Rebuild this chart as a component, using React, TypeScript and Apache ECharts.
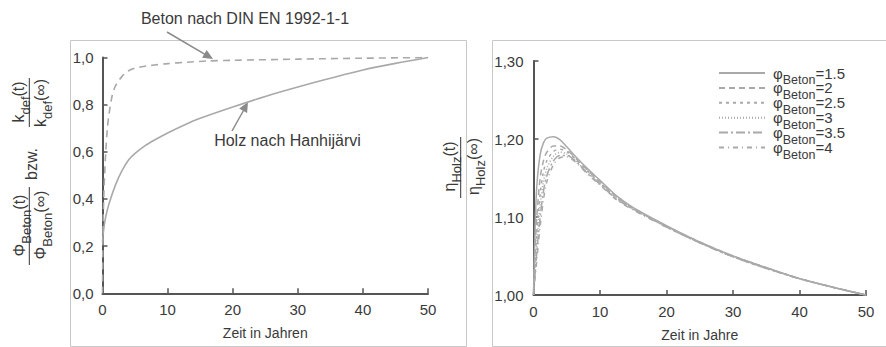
import React, { useEffect, useRef } from "react";
import * as echarts from "echarts";

// ---------- data ----------
const X_TICKS_MAX = 50;

// Left chart: relative creep functions
const T_BETON = [0, 0.1, 0.25, 0.5, 0.75, 1, 1.5, 2, 3, 4, 5, 6.5, 8, 10, 13, 16, 20, 30, 40, 50];
const V_BETON = [0, 0.3, 0.45, 0.6, 0.7, 0.76, 0.84, 0.88, 0.92, 0.944, 0.955, 0.963, 0.968, 0.974, 0.98, 0.985, 0.988, 0.993, 0.997, 1.0];

const T_HOLZ = [0, 0.1, 0.25, 0.5, 1, 2, 3, 4, 5, 6.5, 8, 10, 12.5, 15, 20, 25, 30, 35, 40, 45, 50];
const V_HOLZ = [0.22, 0.25, 0.285, 0.325, 0.38, 0.46, 0.52, 0.565, 0.593, 0.625, 0.65, 0.68, 0.713, 0.742, 0.79, 0.835, 0.875, 0.912, 0.947, 0.975, 1.0];

// Right chart: eta_Holz(t)/eta_Holz(inf) for several phi_Beton
const T_RIGHT = [0, 0.25, 0.5, 1, 1.5, 2, 3, 4, 5, 6.5, 8, 10, 12.5, 15, 20, 25, 30, 35, 40, 45, 50];
const PHI_NAMES = ["1.5", "2", "2.5", "3", "3.5", "4"];
const V_PHI_15 = [1.0, 1.09, 1.14, 1.18, 1.195, 1.201, 1.203, 1.199, 1.19, 1.176, 1.163, 1.147, 1.127, 1.112, 1.089, 1.068, 1.05, 1.035, 1.021, 1.01, 1.0];
const V_PHI_2 = [1.0, 1.06, 1.1, 1.15, 1.172, 1.183, 1.191, 1.191, 1.186, 1.174, 1.161, 1.145, 1.126, 1.111, 1.088, 1.068, 1.05, 1.035, 1.021, 1.01, 1.0];
const V_PHI_25 = [1.0, 1.045, 1.08, 1.13, 1.158, 1.172, 1.184, 1.187, 1.184, 1.173, 1.16, 1.144, 1.125, 1.111, 1.088, 1.067, 1.05, 1.035, 1.021, 1.01, 1.0];
const V_PHI_3 = [1.0, 1.035, 1.065, 1.115, 1.145, 1.162, 1.178, 1.183, 1.181, 1.171, 1.158, 1.143, 1.124, 1.11, 1.088, 1.067, 1.049, 1.035, 1.021, 1.01, 1.0];
const V_PHI_35 = [1.0, 1.028, 1.055, 1.1, 1.133, 1.153, 1.172, 1.179, 1.179, 1.17, 1.157, 1.142, 1.123, 1.11, 1.087, 1.067, 1.049, 1.034, 1.021, 1.01, 1.0];
const V_PHI_4 = [1.0, 1.022, 1.045, 1.088, 1.122, 1.145, 1.167, 1.176, 1.177, 1.169, 1.156, 1.141, 1.122, 1.109, 1.087, 1.067, 1.049, 1.034, 1.021, 1.01, 1.0];
const PHI_VALUES = [V_PHI_15, V_PHI_2, V_PHI_25, V_PHI_3, V_PHI_35, V_PHI_4];

// ---------- styles ----------
const FONT = "'Liberation Sans', Arial, sans-serif";
const TXT = "#3a3a3a";
const AXIS = "#555555";
const CURVE = "#a9a9a9";
const PHI_DASH: any[] = ["solid", [6, 4], [3, 4], [1, 2], [9, 3, 2, 3], [5, 4, 1, 4]];

const zip = (t: number[], v: number[]) => t.map((x, i) => [x, v[i]]);

const legendRich = {
  a: { fontSize: 15, lineHeight: 15, fontFamily: FONT, color: TXT },
  b: { fontSize: 12.5, height: 1, lineHeight: 1, verticalAlign: "bottom", fontFamily: FONT, color: TXT },
};
const titleRich = {
  a: { fontSize: 16, lineHeight: 16, fontFamily: FONT, color: TXT },
  b: { fontSize: 13, height: 1, lineHeight: 1, verticalAlign: "bottom", fontFamily: FONT, color: TXT },
};

function valueAxisX(gridIndex: number, name: string) {
  return {
    type: "value",
    gridIndex,
    min: 0,
    max: X_TICKS_MAX,
    interval: 10,
    name,
    nameLocation: "middle",
    nameGap: 33,
    nameTextStyle: { fontFamily: FONT, fontSize: 14, color: TXT },
    axisLine: { show: true, onZero: false, lineStyle: { color: AXIS, width: 2 } },
    axisTick: { show: true, inside: true, length: 5, lineStyle: { color: AXIS, width: 1.5 } },
    axisLabel: { fontFamily: FONT, fontSize: 15, color: TXT, margin: 9 },
    splitLine: { show: false },
  };
}

export default function App() {
  const ref = useRef<HTMLDivElement>(null);

  useEffect(() => {
    if (!ref.current) return;
    const chart = echarts.init(ref.current, undefined, { renderer: "svg" });

    const phiSeries = PHI_NAMES.map((n, i) => ({
      name: n,
      type: "line",
      xAxisIndex: 1,
      yAxisIndex: 1,
      data: zip(T_RIGHT, PHI_VALUES[i]),
      smooth: 0.3,
      symbol: "none",
      itemStyle: { color: CURVE },
      lineStyle: { color: CURVE, width: 1.5, type: PHI_DASH[i] },
      z: 10 - i,
    }));

    const rotText = (text: string, x: number, y: number) => ({
      type: "text",
      x,
      y,
      rotation: Math.PI / 2,
      style: { text, rich: titleRich, align: "center", verticalAlign: "middle", fill: TXT, font: `16px ${FONT}` },
    });
    const vbar = (x: number, y1: number, y2: number) => ({
      type: "line",
      shape: { x1: x, y1, x2: x, y2 },
      style: { stroke: "#333", lineWidth: 1 },
    });

    const option: any = {
      animation: false,
      backgroundColor: "#ffffff",
      textStyle: { fontFamily: FONT },
      grid: [
        { left: 102.5, top: 57.5, width: 325.5, height: 235.8, containLabel: false },
        { left: 533.5, top: 61, width: 332.5, height: 237, containLabel: false },
      ],
      xAxis: [valueAxisX(0, "Zeit in Jahren"), valueAxisX(1, "Zeit in Jahre")],
      yAxis: [
        {
          type: "value",
          gridIndex: 0,
          min: 0,
          max: 1,
          interval: 0.2,
          axisLine: { show: true, onZero: false, lineStyle: { color: AXIS, width: 2 } },
          axisTick: { show: true, inside: true, length: 5, lineStyle: { color: AXIS, width: 1.5 } },
          axisLabel: {
            fontFamily: FONT,
            fontSize: 15,
            color: TXT,
            margin: 9,
            formatter: (v: number) => v.toFixed(1).replace(".", ","),
          },
          splitLine: { show: false },
        },
        {
          type: "value",
          gridIndex: 1,
          min: 1.0,
          max: 1.3,
          interval: 0.1,
          axisLine: { show: true, onZero: false, lineStyle: { color: AXIS, width: 2 } },
          axisTick: { show: true, inside: true, length: 5, lineStyle: { color: AXIS, width: 1.5 } },
          axisLabel: {
            fontFamily: FONT,
            fontSize: 15,
            color: TXT,
            margin: 10,
            formatter: (v: number) => v.toFixed(2).replace(".", ","),
          },
          splitLine: { show: false },
        },
      ],
      legend: {
        data: PHI_NAMES,
        orient: "vertical",
        left: 718,
        top: 65.5,
        padding: 0,
        itemGap: -6.1,
        itemWidth: 46,
        itemHeight: 10,
        itemStyle: { opacity: 0 },
        formatter: (name: string) => `{a|φ}{b|Beton}{a|=${name}}`,
        textStyle: { padding: [0, 0, 0, 3], rich: legendRich },
      },
      series: [
        {
          name: "Beton nach DIN EN 1992-1-1",
          type: "line",
          xAxisIndex: 0,
          yAxisIndex: 0,
          data: zip(T_BETON, V_BETON),
          smooth: 0.3,
          symbol: "none",
          itemStyle: { color: CURVE },
          lineStyle: { color: CURVE, width: 1.6, type: [7, 5] },
        },
        {
          name: "Holz nach Hanhijärvi",
          type: "line",
          xAxisIndex: 0,
          yAxisIndex: 0,
          data: zip(T_HOLZ, V_HOLZ),
          smooth: 0.3,
          symbol: "none",
          itemStyle: { color: CURVE },
          lineStyle: { color: CURVE, width: 1.6 },
        },
        ...phiSeries,
      ],
      graphic: [
        // panel frames
        { type: "rect", shape: { x: 70.5, y: 40.5, width: 396, height: 306 }, style: { fill: "none", stroke: "#c8c8c8", lineWidth: 1 }, z: -1 },
        { type: "rect", shape: { x: 492.5, y: 40.5, width: 400, height: 306 }, style: { fill: "none", stroke: "#c8c8c8", lineWidth: 1 }, z: -1 },
        // annotations
        { type: "text", x: 245, y: 18.5, style: { text: "Beton nach DIN EN 1992-1-1", font: `16px ${FONT}`, fill: TXT, align: "center", verticalAlign: "middle" } },
        { type: "text", x: 287.5, y: 140, style: { text: "Holz nach Hanhijärvi", font: `16px ${FONT}`, fill: TXT, align: "center", verticalAlign: "middle" } },
        { type: "line", shape: { x1: 167, y1: 32, x2: 205, y2: 54.3 }, style: { stroke: "#8a8a8a", lineWidth: 1.5 } },
        { type: "polygon", shape: { points: [[213, 59], [202.1, 57.8], [206.7, 50.0]] }, style: { fill: "#8a8a8a" } },
        { type: "line", shape: { x1: 232, y1: 131, x2: 243.5, y2: 110.5 }, style: { stroke: "#8a8a8a", lineWidth: 1.5 } },
        { type: "polygon", shape: { points: [[248, 102], [247.1, 113.0], [239.2, 108.6]] }, style: { fill: "#8a8a8a" } },
        // left y title
        rotText("{a|Φ}{b|Beton}{a|(t)}", 19, 225.5),
        vbar(29.3, 187, 265),
        rotText("{a|Φ}{b|Beton}{a|(∞)}", 40, 225),
        rotText("{a|bzw.}", 31, 164),
        rotText("{a|k}{b|def}{a|(t)}", 18, 102),
        vbar(29.3, 78, 127),
        rotText("{a|k}{b|def}{a|(∞)}", 40, 103),
        // right y title
        rotText("{a|η}{b|Holz}{a|(t)}", 449, 166.5),
        vbar(460.7, 137, 198),
        rotText("{a|η}{b|Holz}{a|(∞)}", 473, 166.5),
      ],
    };

    chart.setOption(option);
    return () => chart.dispose();
  }, []);

  return (
    <div
      ref={ref}
      style={{ position: "fixed", left: 0, top: 0, width: 886, height: 347, background: "#fff" }}
    />
  );
}
